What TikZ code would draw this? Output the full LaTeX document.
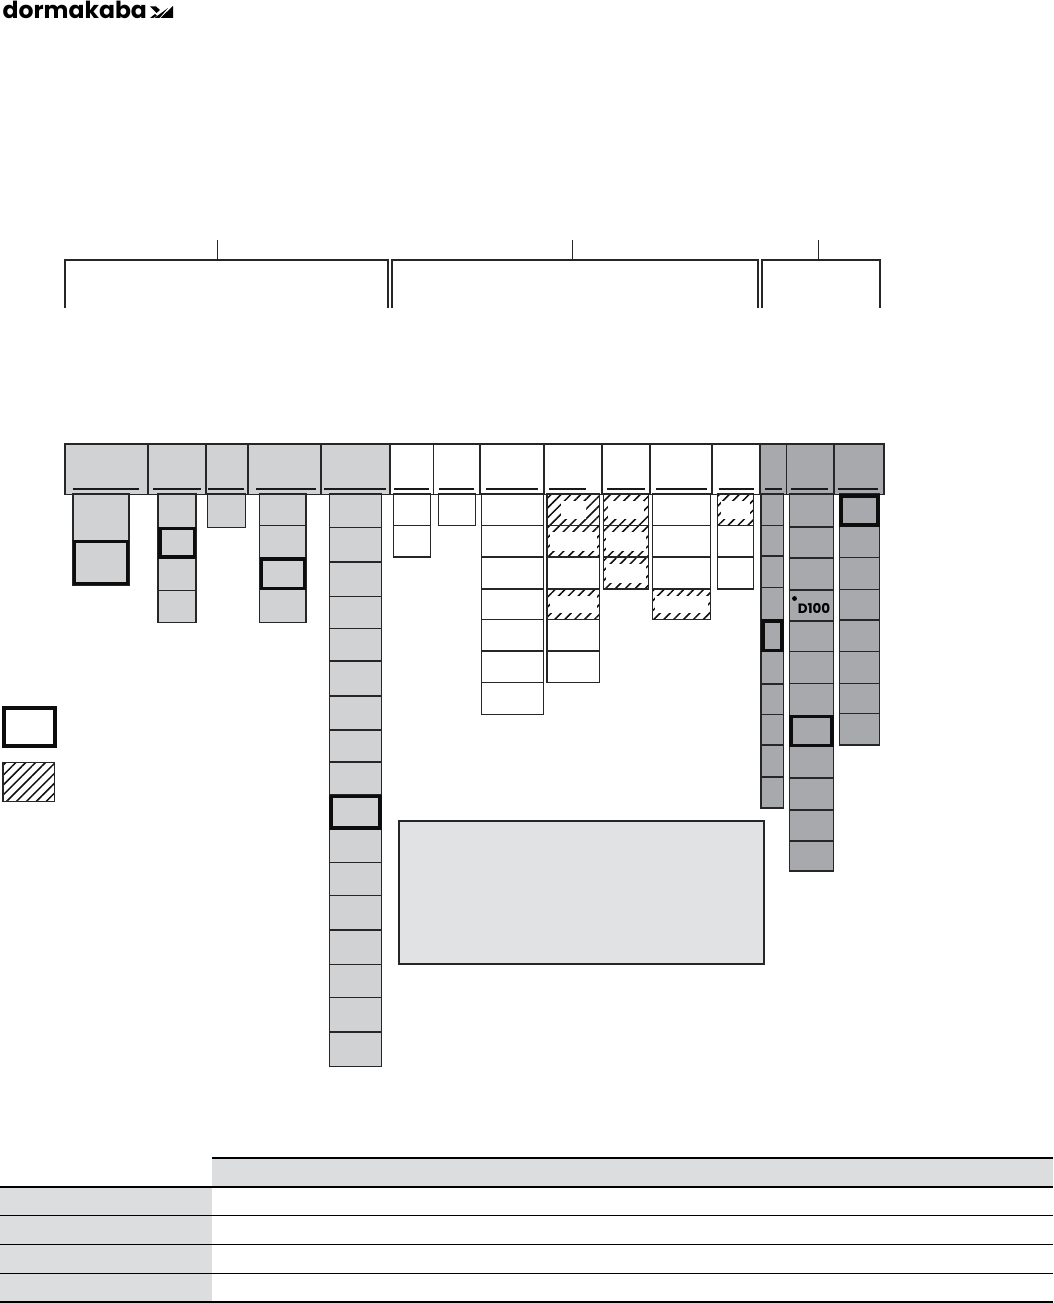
\documentclass[tikz,border=0pt]{standalone}
\usepackage{tikz}
\usepackage{fontspec}
\usetikzlibrary{patterns.meta}
\newfontfamily\logofont{Poppins}
\definecolor{lightcell}{HTML}{D1D2D4}
\definecolor{darkcell}{HTML}{A7A9AC}
\definecolor{notegrey}{HTML}{E1E2E3}
\definecolor{tablegrey}{HTML}{DCDDDE}
\tikzset{
	cellline/.style={draw=black!85, line width=1.4pt},
	underline/.style={draw=black!90, line width=1.7pt},
	thickcell/.style={draw=black!95, line width=3.6pt},
	hatchfill/.style={pattern={Lines[angle=45,distance=7pt,line width=1.5pt]}, pattern color=black!95},
	ruleline/.style={draw=black, line width=1pt},
	ruleheavy/.style={draw=black, line width=2pt},
	bracketline/.style={draw=black!85, line width=1.5pt}
}
\begin{document}
\begin{tikzpicture}[x=1pt, y=-1pt]
	\useasboundingbox (0,0) rectangle (1053,1303);

	% logo
	\node[inner sep=0, anchor=base west, font=\logofont\bfseries\fontsize{23.5}{23.5}\selectfont] (logotext) at (2.5,19) {dormakaba};
	\fill (150,18) -- (155,14) -- (157,16) -- (153,18) -- cycle;
	\fill (150,6.5) -- (156,6.5) -- (160,10) -- (156.5,13) -- cycle;
	\fill (154.5,18) -- (168,8) -- (159.5,18) -- cycle;
	\fill (160.5,18) -- (173,6) -- (173,18) -- cycle;

	% brackets
	\coordinate (ga) at (65,308);   \coordinate (gb) at (388,308);
	\coordinate (gc) at (392,308);  \coordinate (gd) at (758,308);
	\coordinate (ge) at (762,308);  \coordinate (gf) at (880,308);
	\draw[bracketline] (ga) |- (gb |- 0,260) -- (gb);
	\draw[bracketline] (gc) |- (gd |- 0,260) -- (gd);
	\draw[bracketline] (ge) |- (gf |- 0,260) -- (gf);
	\draw[bracketline] (217.5,240) -- (217.5,260);
	\draw[bracketline] (572.5,240) -- (572.5,260);
	\draw[bracketline] (818.5,240) -- (818.5,260);

	% header row
	\foreach \xa/\xb/\ua/\ub/\col in {
		65/148/72.7/138.7/lightcell, 148/206/153/201/lightcell, 206/248/208/244/lightcell,
		248/321/256/316/lightcell, 321/390/324.3/385.7/lightcell,
		390/433.5/394/429.3/white, 433.5/480/439/474/white, 480/544/486.3/538/white,
		544/602/549/586.3/white, 602/650/607/644.7/white, 650/712/656/707/white, 712/760/718.7/754/white,
		760/786.5/765/782/darkcell, 786.5/834/790.7/828/darkcell, 834/884/838.3/878/darkcell} {
		\draw[cellline, fill=\col] (\xa,444) rectangle (\xb,494.3);
		\draw[underline] (\ua,488.7) -- (\ub,488.7);
	}

	% columns
	\foreach \xa/\xb/\col/\rows in {
		73/129/lightcell/{540.7,585},
		158/196/lightcell/{527.7,558,590.3,622.3},
		207.3/245.3/lightcell/{527.6},
		259.7/306/lightcell/{525.7,558,589.3,622.3},
		329.3/381.7/lightcell/{527.7,562,596.3,628.3,661,696,730,762,795,829,862.3,895.3,930,964.3,997.7,1032,1066.3},
		393.3/430.3/white/{525.3,557},
		438.7/475.3/white/{525.3},
		481.3/543.7/white/{525.3,557,589,619.3,651,682.7,714.3},
		547/599.7/white/{525.3,557,589,619.3,651,682.3},
		603.7/648.3/white/{525.3,557,589},
		652.7/710.7/white/{525.3,557,589,619.3},
		717.3/753.7/white/{525.3,557,589},
		761/783.7/darkcell/{525.7,556,587.3,620,651.7,684,714.3,745,777,808},
		789.3/833.7/darkcell/{527,558,590,621,651.7,683.3,715.3,746,778,810,841,871},
		839.3/879.3/darkcell/{525.7,557.3,589.7,620,651.7,683.3,713.7,745}} {
		\foreach \yb [remember=\yb as \ya (initially 494)] in \rows {
			\draw[cellline, fill=\col] (\xa,\ya) rectangle (\xb,\yb);
		}
	}

	% hatched cells
	\foreach \xa/\xb/\ya/\yb/\ix in {
		547/599.7/494/525.3/14, 547/599.7/525.3/557/2.5, 547/599.7/589/619.3/2.5,
		603.7/648.3/494/525.3/4, 603.7/648.3/525.3/557/2.5, 603.7/648.3/557/589/2.5,
		652.7/710.7/589/619.3/2.5, 717.3/753.7/494/525.3/4} {
		\draw[cellline, hatchfill] (\xa,\ya) rectangle (\xb,\yb);
		\fill[white] (\xa+\ix,\ya+6.5) rectangle (\xb-\ix,\yb-6);
	}

	% thick cells
	\foreach \xa/\xb/\ya/\yb in {
		74.5/127.5/541.5/583.5, 160/194.5/528.5/557, 261.5/304.5/559/588.5,
		331/380/796.5/828, 763/782/621/650.5, 791.2/831.8/716.5/745.5, 841/878/496/525} {
		\draw[thickcell] (\xa,\ya) rectangle (\xb,\yb);
	}

	\fill (794.5,598.5) circle (2.4);
	\node[inner sep=0, font=\logofont\bfseries\fontsize{13.5}{13.5}\selectfont] (dlabel) at (814,608) {D100};

	% note box
	\node[draw=black!85, line width=1.4pt, fill=notegrey, inner sep=0, minimum width=365pt, minimum height=143pt] (notebox) at (581.5,892.5) {};

	% legend
	\draw[thickcell, line width=4pt] (3.5,707.5) rectangle (54.5,745.5);
	\draw[cellline, hatchfill] (3,762.5) rectangle (54.7,801.5);

	% table
	\fill[tablegrey] (212,1158) rectangle (1053,1187);
	\fill[tablegrey] (0,1187) rectangle (212,1302);
	\draw[ruleheavy] (212,1158) -- (1053,1158);
	\draw[ruleheavy] (0,1187) -- (1053,1187);
	\foreach \yr in {1215.5,1244.5,1273.5} {
		\draw[ruleline] (0,\yr) -- (1053,\yr);
	}
	\draw[ruleheavy] (0,1302) -- (1053,1302);
\end{tikzpicture}
\end{document}
